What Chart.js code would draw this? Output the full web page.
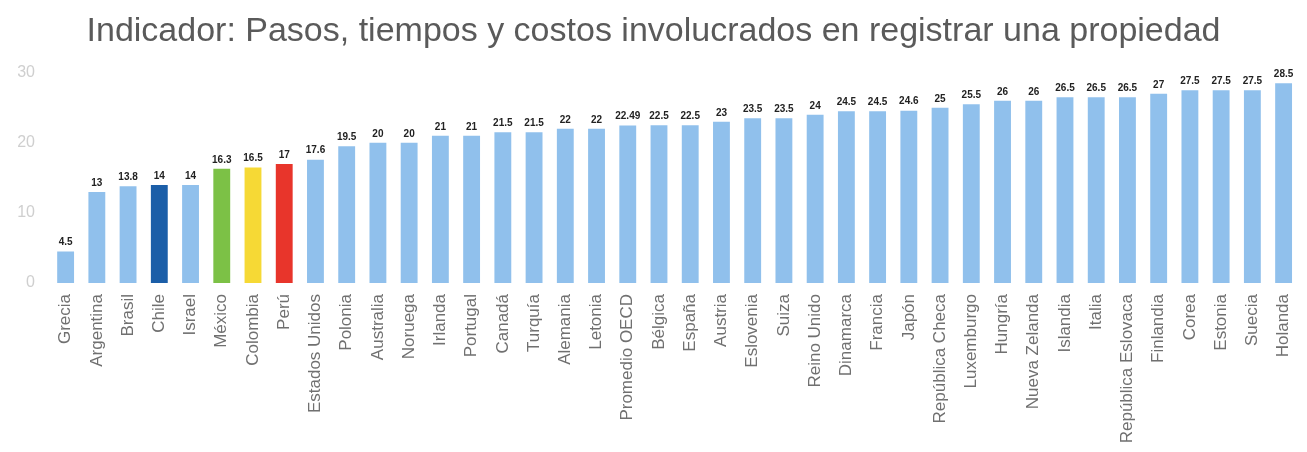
<!DOCTYPE html>
<html>
<head>
<meta charset="utf-8">
<script src="https://cdn.jsdelivr.net/npm/chart.js@4"></script>
<style>
  html, body { margin: 0; padding: 0; background: #fff; }
  #wrap { width: 1307px; height: 452px; }
</style>
</head>
<body>
<div id="wrap"><canvas id="myChart"></canvas></div>
<script>
const paises = ['Grecia', 'Argentina', 'Brasil', 'Chile', 'Israel', 'México', 'Colombia', 'Perú',
  'Estados Unidos', 'Polonia', 'Australia', 'Noruega', 'Irlanda', 'Portugal', 'Canadá', 'Turquía',
  'Alemania', 'Letonia', 'Promedio OECD', 'Bélgica', 'España', 'Austria', 'Eslovenia', 'Suiza',
  'Reino Unido', 'Dinamarca', 'Francia', 'Japón', 'República Checa', 'Luxemburgo', 'Hungría',
  'Nueva Zelanda', 'Islandia', 'Italia', 'República Eslovaca', 'Finlandia', 'Corea', 'Estonia',
  'Suecia', 'Holanda'];

const valores = [4.5, 13, 13.8, 14, 14, 16.3, 16.5, 17, 17.6, 19.5, 20, 20, 21, 21, 21.5, 21.5,
  22, 22, 22.49, 22.5, 22.5, 23, 23.5, 23.5, 24, 24.5, 24.5, 24.6, 25, 25.5, 26, 26,
  26.5, 26.5, 26.5, 27, 27.5, 27.5, 27.5, 28.5];

const yTicks = [0, 10, 20, 30];

// colores destacados
const destacados = { 'Chile': '#1b5ea8', 'México': '#7cc146', 'Colombia': '#f6d935', 'Perú': '#e8352b' };
const colores = paises.map((p) => destacados[p] || '#90c0ec');

Chart.defaults.font.family = "'Liberation Sans', Arial, sans-serif";

// etiquetas de valor sobre cada barra
const etiquetas = {
  id: 'etiquetas',
  afterDatasetsDraw(chart) {
    const ctx = chart.ctx;
    const meta = chart.getDatasetMeta(0);
    ctx.save();
    ctx.font = "bold 10px 'Liberation Sans', Arial, sans-serif";
    ctx.fillStyle = '#222';
    ctx.textAlign = 'center';
    ctx.textBaseline = 'bottom';
    meta.data.forEach((bar, i) => {
      ctx.fillText(String(valores[i]), bar.x, bar.y - 4);
    });
    ctx.restore();
  }
};

new Chart(document.getElementById('myChart'), {
  type: 'bar',
  data: {
    labels: paises,
    datasets: [{
      label: 'Indicador',
      data: valores,
      backgroundColor: colores,
      barPercentage: 0.54,
      categoryPercentage: 1
    }]
  },
  options: {
    responsive: true,
    maintainAspectRatio: false,
    animation: false,
    layout: { padding: 0 },
    plugins: {
      legend: { display: false },
      tooltip: { enabled: false },
      title: {
        display: true,
        text: 'Indicador: Pasos, tiempos y costos involucrados en registrar una propiedad',
        color: '#5a5a5a',
        font: { size: 34, weight: 'normal' },
        padding: { top: 11, bottom: 21 }
      }
    },
    scales: {
      x: {
        grid: { display: false },
        border: { display: false },
        ticks: {
          color: '#707070',
          font: { size: 17 },
          minRotation: 90,
          maxRotation: 90,
          autoSkip: false,
          padding: 3
        },
        afterFit(scale) { scale.height = 169; }
      },
      y: {
        min: 0,
        max: 30,
        grid: { display: false },
        border: { display: false },
        afterBuildTicks(scale) { scale.ticks = yTicks.map((v) => ({ value: v })); },
        ticks: {
          color: '#cfcfcf',
          font: { size: 16 },
          padding: 7
        },
        afterFit(scale) { scale.width = 50; }
      }
    }
  },
  plugins: [etiquetas]
});
</script>
</body>
</html>
